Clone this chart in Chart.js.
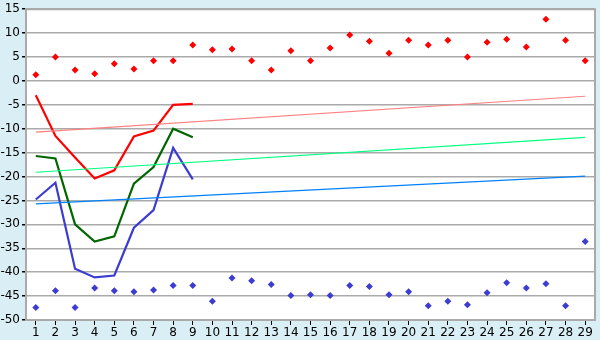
<!DOCTYPE html>
<html>
<head>
<meta charset="utf-8">
<script src="https://cdn.jsdelivr.net/npm/chart.js@4"></script>
<style>
  html, body { margin: 0; padding: 0; background: #d9eef5; }
  #wrap { width: 600px; height: 340px; }
</style>
</head>
<body>
<div id="wrap"><canvas id="tempChart" width="600" height="340"></canvas></div>
<script>
var days = [];
for (var d = 1; d <= 29; d++) days.push(String(d));

var maxPoints = [1.3, 5.0, 2.3, 1.5, 3.6, 2.5, 4.2, 4.2, 7.5, 6.5, 6.7, 4.2, 2.3, 6.3,
                 4.2, 6.9, 9.6, 8.3, 5.8, 8.5, 7.5, 8.5, 5.0, 8.1, 8.7, 7.1, 12.9, 8.5, 4.2];
var minPoints = [-47.4, -43.9, -47.4, -43.3, -43.9, -44.1, -43.7, -42.8, -42.8, -46.1,
                 -41.2, -41.8, -42.6, -44.9, -44.7, -44.9, -42.8, -43.0, -44.7, -44.1,
                 -47.0, -46.1, -46.8, -44.3, -42.2, -43.3, -42.4, -47.0, -33.6];
var redLine = [-3.0, -11.5, -16.0, -20.4, -18.7, -11.6, -10.4, -5.0, -4.8];
var greenLine = [-15.7, -16.2, -30.0, -33.6, -32.5, -21.5, -18.0, -10.0, -11.8];
var blueLine = [-24.8, -21.3, -39.3, -41.1, -40.7, -30.7, -27.0, -14.0, -20.6];
// trend lines: value at day 1 and at day 29
var trendHigh = [-10.7, -3.2];
var trendMid = [-19.1, -11.8];
var trendLow = [-25.7, -19.9];

function pad(arr) {
    var out = arr.slice();
    while (out.length < days.length) out.push(null);
    return out;
}
function ends(pair) {
    var out = [];
    for (var i = 0; i < days.length; i++) out.push(null);
    out[0] = pair[0];
    out[days.length - 1] = pair[1];
    return out;
}

var backdrop = {
    id: 'backdrop',
    beforeDraw: function (chart) {
        var c = chart.ctx, a = chart.chartArea;
        c.save();
        c.fillStyle = '#d9eef5';
        c.fillRect(0, 0, chart.width, chart.height);
        c.fillStyle = '#ffffff';
        c.fillRect(a.left, a.top, a.right - a.left, a.bottom - a.top);
        c.restore();
    },
    afterDraw: function (chart) {
        var c = chart.ctx, a = chart.chartArea;
        c.save();
        c.strokeStyle = '#aaaaaa';
        c.lineWidth = 2;
        c.beginPath();
        c.moveTo(a.left, a.top);
        c.lineTo(a.right, a.top);
        c.lineTo(a.right, a.bottom);
        c.stroke();
        c.restore();
    }
};

function trend(data, color) {
    return { data: ends(data), borderColor: color, borderWidth: 1.2, pointRadius: 0,
             spanGaps: true, fill: false, tension: 0 };
}
function thick(data, color) {
    return { data: pad(data), borderColor: color, borderWidth: 2.2, pointRadius: 0,
             fill: false, tension: 0 };
}
function dots(data, color) {
    return { data: data, showLine: false, pointStyle: 'rectRot', pointRadius: 3.5,
             pointBackgroundColor: color, pointBorderColor: color, pointBorderWidth: 0 };
}

var chart = new Chart(document.getElementById('tempChart'), {
    type: 'line',
    data: {
        labels: days,
        datasets: [
            trend(trendHigh, '#ff8080'),
            trend(trendMid, '#00ff80'),
            trend(trendLow, '#0080ff'),
            thick(redLine, '#ff0000'),
            thick(greenLine, '#006600'),
            thick(blueLine, '#3c3cd2'),
            dots(maxPoints, '#ff0000'),
            dots(minPoints, '#3c3cd2')
        ]
    },
    plugins: [backdrop],
    options: {
        responsive: false,
        animation: false,
        layout: { padding: { top: 5, right: 5, left: 0, bottom: 0 } },
        plugins: { legend: { display: false }, tooltip: { enabled: false } },
        scales: {
            x: {
                offset: true,
                grid: { drawOnChartArea: false, tickColor: '#000000', tickLength: 5, lineWidth: 1 },
                border: { color: '#aaaaaa', width: 2 },
                ticks: { color: '#000', font: { family: 'DejaVu Sans', size: 12 }, padding: 1,
                         maxRotation: 0, autoSkip: false },
                afterFit: function (s) { s.height = 20; }
            },
            y: {
                min: -50, max: 15,
                grid: { color: '#aaaaaa', lineWidth: 1.5, tickColor: '#000000', tickLength: 4 },
                border: { color: '#aaaaaa', width: 2 },
                ticks: { stepSize: 5, color: '#000', font: { family: 'DejaVu Sans', size: 12 }, padding: 2 },
                afterFit: function (s) { s.width = 26; }
            }
        }
    }
});
</script>
</body>
</html>
